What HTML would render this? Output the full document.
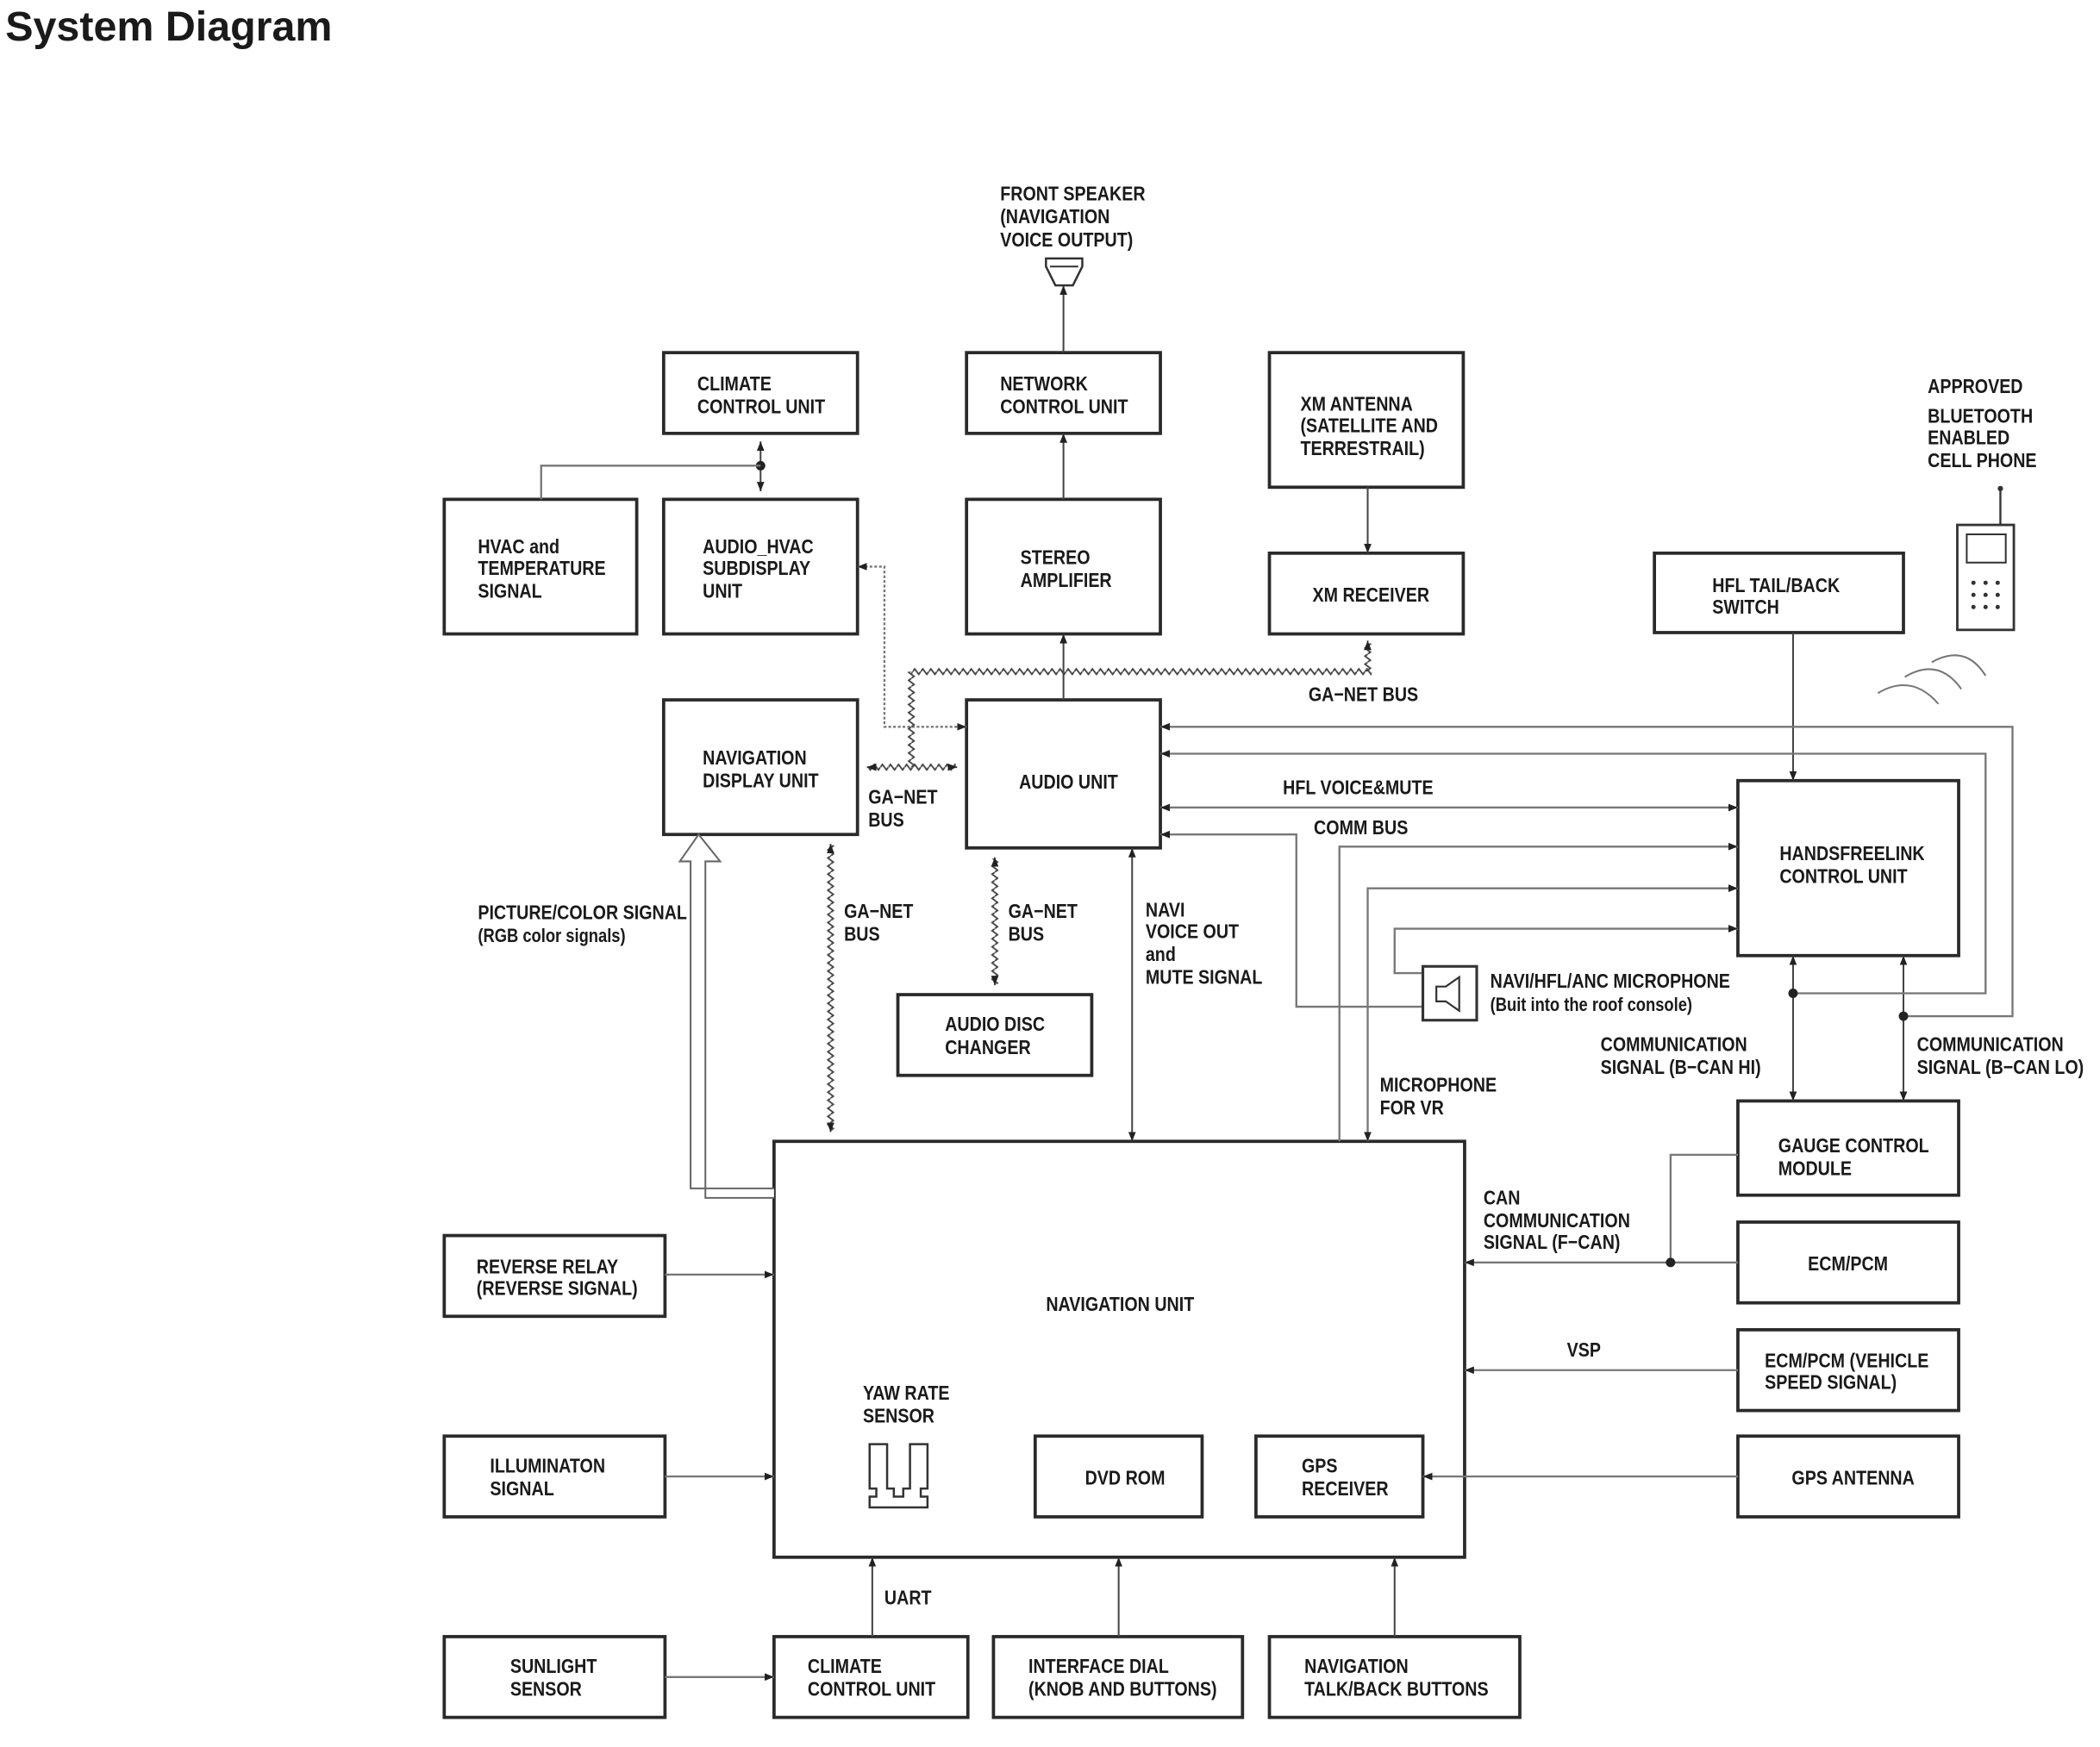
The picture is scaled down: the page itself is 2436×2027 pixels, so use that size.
<!DOCTYPE html>
<html><head><meta charset="utf-8"><style>
html,body{margin:0;padding:0;background:#fff}
svg{display:block}
.b{fill:#fff;stroke:#2a2a2a;stroke-width:2.4}
.l{fill:none;stroke:#777;stroke-width:1.5}
.d{fill:none;stroke:#444;stroke-width:1.3}
text{font-family:"Liberation Sans",Arial,sans-serif;font-weight:bold;font-size:15px;fill:#1a1a1a}
.t{font-size:31px}
</style></head><body>
<svg width="2436" height="2027" viewBox="0 0 1560 1298" preserveAspectRatio="none" xmlns="http://www.w3.org/2000/svg">
<defs>
<marker id="a" viewBox="0 0 10 10" refX="10" refY="5" markerWidth="7" markerHeight="7" orient="auto-start-reverse" markerUnits="userSpaceOnUse"><path d="M0,1 L10,5 L0,9 z" fill="#222"/></marker>
<pattern id="h1" patternUnits="userSpaceOnUse" x="0" y="496" width="6" height="6"><polyline points="0,3 1.5,1 4.5,5 6,3" fill="none" stroke="#444" stroke-width="1.2"/></pattern>
<pattern id="h2" patternUnits="userSpaceOnUse" x="0" y="567" width="6" height="6"><polyline points="0,3 1.5,1 4.5,5 6,3" fill="none" stroke="#444" stroke-width="1.2"/></pattern>
<pattern id="v1" patternUnits="userSpaceOnUse" x="674" y="0" width="6" height="6"><polyline points="3,0 1,1.5 5,4.5 3,6" fill="none" stroke="#444" stroke-width="1.2"/></pattern>
<pattern id="v2" patternUnits="userSpaceOnUse" x="614" y="0" width="6" height="6"><polyline points="3,0 1,1.5 5,4.5 3,6" fill="none" stroke="#444" stroke-width="1.2"/></pattern>
<pattern id="v3" patternUnits="userSpaceOnUse" x="736" y="0" width="6" height="6"><polyline points="3,0 1,1.5 5,4.5 3,6" fill="none" stroke="#444" stroke-width="1.2"/></pattern>
<pattern id="v4" patternUnits="userSpaceOnUse" x="1013" y="0" width="6" height="6"><polyline points="3,0 1,1.5 5,4.5 3,6" fill="none" stroke="#444" stroke-width="1.2"/></pattern>
</defs>
<text class="t" x="4" y="30">System Diagram</text>

<!-- boxes -->
<rect class="b" x="493" y="262" width="144" height="60"/>
<rect class="b" x="718" y="262" width="144" height="60"/>
<rect class="b" x="943" y="262" width="144" height="100"/>
<rect class="b" x="330" y="371" width="143" height="100"/>
<rect class="b" x="493" y="371" width="144" height="100"/>
<rect class="b" x="718" y="371" width="144" height="100"/>
<rect class="b" x="943" y="411" width="144" height="60"/>
<rect class="b" x="1229" y="411" width="185" height="59"/>
<rect class="b" x="493" y="520" width="144" height="100"/>
<rect class="b" x="718" y="520" width="144" height="110"/>
<rect class="b" x="1291" y="580" width="164" height="130"/>
<rect class="b" x="667" y="739" width="144" height="60"/>
<rect class="b" x="1291" y="818" width="164" height="70"/>
<rect class="b" x="1291" y="908" width="164" height="60"/>
<rect class="b" x="1291" y="988" width="164" height="60"/>
<rect class="b" x="1291" y="1067" width="164" height="60"/>
<rect class="b" x="575" y="848" width="513" height="309"/>
<rect class="b" x="330" y="918" width="164" height="60"/>
<rect class="b" x="330" y="1067" width="164" height="60"/>
<rect class="b" x="330" y="1216" width="164" height="60"/>
<rect class="b" x="575" y="1216" width="144" height="60"/>
<rect class="b" x="738" y="1216" width="185" height="60"/>
<rect class="b" x="943" y="1216" width="186" height="60"/>
<rect class="b" x="769" y="1067" width="124" height="60"/>
<rect class="b" x="933" y="1067" width="124" height="60"/>

<!-- straight connectors -->
<g class="d" marker-end="url(#a)">
<path d="M790 262 V212"/>
<path d="M790 371 V322"/>
<path d="M790 520 V471"/>
<path d="M1016 362 V411"/>
<path d="M1332 470 V580"/>
<path d="M648 1216 V1157"/>
<path d="M831 1216 V1157"/>
<path d="M1036 1216 V1157"/>
</g>
<path class="d" d="M565 328 V365" marker-start="url(#a)" marker-end="url(#a)"/>
<circle cx="565" cy="346" r="3.5" fill="#222"/>
<path class="l" d="M565 346 H402 V371"/>
<path class="d" d="M841 630 V848" marker-start="url(#a)" marker-end="url(#a)"/>
<path class="d" d="M1332 710 V818" marker-start="url(#a)" marker-end="url(#a)"/>
<path class="d" d="M1414 710 V818" marker-start="url(#a)" marker-end="url(#a)"/>

<!-- gray signal lines -->
<g class="l">
<path d="M718 540 H657 V421 H637" stroke-dasharray="2 1.5" marker-start="url(#a)" marker-end="url(#a)"/>
<path d="M862 540 H1495 V755 H1414" marker-start="url(#a)"/>
<path d="M862 560 H1475 V738 H1332" marker-start="url(#a)"/>
<path d="M862 600 H1291" marker-start="url(#a)" marker-end="url(#a)"/>
<path d="M862 620 H963 V748 H1057" marker-start="url(#a)"/>
<path d="M1291 629 H995 V848" marker-start="url(#a)"/>
<path d="M1291 660 H1016 V848" marker-start="url(#a)" marker-end="url(#a)"/>
<path d="M1291 690 H1036 V723 H1057" marker-start="url(#a)"/>
<path d="M1291 858 H1241 V938"/>
<path d="M1291 938 H1088" marker-end="url(#a)"/>
<path d="M1291 1018 H1088" marker-end="url(#a)"/>
<path d="M1291 1097 H1057" marker-end="url(#a)"/>
<path d="M494 947 H575" marker-end="url(#a)"/>
<path d="M494 1097 H575" marker-end="url(#a)"/>
<path d="M494 1246 H575" marker-end="url(#a)"/>
</g>
<circle cx="1414" cy="755" r="3.5" fill="#222"/>
<circle cx="1332" cy="738" r="3.5" fill="#222"/>
<circle cx="1241" cy="938" r="3.5" fill="#222"/>

<!-- wavy buses -->
<rect x="677" y="496" width="342" height="6" fill="url(#h1)"/>
<rect x="645" y="567" width="65" height="6" fill="url(#h2)"/>
<rect x="674" y="499" width="6" height="71" fill="url(#v1)"/>
<rect x="1013" y="478" width="6" height="21" fill="url(#v4)"/>
<rect x="614" y="628" width="6" height="212" fill="url(#v2)"/>
<rect x="736" y="638" width="6" height="93" fill="url(#v3)"/>
<path class="d" d="M1016 477 V476" marker-end="url(#a)"/>
<path class="d" d="M645 570 H644" marker-end="url(#a)"/>
<path class="d" d="M710 570 H711" marker-end="url(#a)"/>
<path class="d" d="M617 628 V627" marker-end="url(#a)"/>
<path class="d" d="M617 840 V841" marker-end="url(#a)"/>
<path class="d" d="M739 638 V637" marker-end="url(#a)"/>
<path class="d" d="M739 731 V732" marker-end="url(#a)"/>

<!-- hollow arrow -->
<path d="M575 883 H513 V640 H505 L519 620 L535 640 H524 V890 H575" fill="#fff" stroke="#666" stroke-width="1.3"/>

<!-- speaker -->
<path d="M777 192 H804 V198 L797 212 H784 L777 198 Z" fill="#fff" stroke="#333" stroke-width="1.6"/>
<path d="M780 198 H801" stroke="#333" stroke-width="1.3"/>

<!-- microphone -->
<rect x="1057" y="718" width="40" height="40" fill="#fff" stroke="#333" stroke-width="2"/>
<path d="M1067 733 H1074 L1084 726 V751 L1074 744 H1067 Z" fill="none" stroke="#333" stroke-width="1.4"/>

<!-- phone -->
<line x1="1486" y1="362" x2="1486" y2="390" stroke="#333" stroke-width="1.5"/>
<circle cx="1486" cy="363" r="2" fill="#333"/>
<rect x="1454" y="390" width="42" height="78" fill="#fff" stroke="#333" stroke-width="1.8"/>
<rect x="1461" y="397" width="29" height="21" fill="#fff" stroke="#333" stroke-width="1.3"/>
<g fill="#333">
<circle cx="1466" cy="433" r="1.6"/><circle cx="1475" cy="433" r="1.6"/><circle cx="1484" cy="433" r="1.6"/>
<circle cx="1466" cy="442" r="1.6"/><circle cx="1475" cy="442" r="1.6"/><circle cx="1484" cy="442" r="1.6"/>
<circle cx="1466" cy="451" r="1.6"/><circle cx="1475" cy="451" r="1.6"/><circle cx="1484" cy="451" r="1.6"/>
</g>
<g fill="none" stroke="#777" stroke-width="1.3">
<path d="M1395 515 Q1420 500 1440 523"/>
<path d="M1415 503 Q1440 488 1457 512"/>
<path d="M1435 492 Q1460 478 1475 502"/>
</g>

<!-- yaw sensor -->
<path d="M646 1073 H659 V1106 H664 V1112 H671 V1106 H676 V1073 H689 V1106 H684 V1112 H689 V1120 H646 V1112 H651 V1106 H646 Z" fill="#fff" stroke="#333" stroke-width="1.6"/>

<!-- texts -->
<g>
<text transform="translate(743 149) scale(.84 1)">FRONT SPEAKER</text><text transform="translate(743 166) scale(.84 1)">(NAVIGATION</text><text transform="translate(743 183) scale(.84 1)">VOICE OUTPUT)</text>
<text transform="translate(518 290) scale(.84 1)">CLIMATE</text><text transform="translate(518 307) scale(.84 1)">CONTROL UNIT</text>
<text transform="translate(743 290) scale(.84 1)">NETWORK</text><text transform="translate(743 307) scale(.84 1)">CONTROL UNIT</text>
<text transform="translate(966 305) scale(.84 1)">XM ANTENNA</text><text transform="translate(966 321) scale(.84 1)">(SATELLITE AND</text><text transform="translate(966 338) scale(.84 1)">TERRESTRAIL)</text>
<text transform="translate(355 411) scale(.84 1)">HVAC and</text><text transform="translate(355 427) scale(.84 1)">TEMPERATURE</text><text transform="translate(355 444) scale(.84 1)">SIGNAL</text>
<text transform="translate(522 411) scale(.84 1)">AUDIO_HVAC</text><text transform="translate(522 427) scale(.84 1)">SUBDISPLAY</text><text transform="translate(522 444) scale(.84 1)">UNIT</text>
<text transform="translate(758 419) scale(.84 1)">STEREO</text><text transform="translate(758 436) scale(.84 1)">AMPLIFIER</text>
<text transform="translate(975 447) scale(.84 1)">XM RECEIVER</text>
<text transform="translate(1272 440) scale(.84 1)">HFL TAIL/BACK</text><text transform="translate(1272 456) scale(.84 1)">SWITCH</text>
<text transform="translate(1432 292) scale(.84 1)">APPROVED</text><text transform="translate(1432 314) scale(.84 1)">BLUETOOTH</text><text transform="translate(1432 330) scale(.84 1)">ENABLED</text><text transform="translate(1432 347) scale(.84 1)">CELL PHONE</text>
<text transform="translate(972 521) scale(.84 1)">GA−NET BUS</text>
<text transform="translate(522 568) scale(.84 1)">NAVIGATION</text><text transform="translate(522 585) scale(.84 1)">DISPLAY UNIT</text>
<text transform="translate(645 597) scale(.84 1)">GA−NET</text><text transform="translate(645 614) scale(.84 1)">BUS</text>
<text transform="translate(757 586) scale(.84 1)">AUDIO UNIT</text>
<text transform="translate(953 590) scale(.84 1)">HFL VOICE&amp;MUTE</text>
<text transform="translate(976 620) scale(.84 1)">COMM BUS</text>
<text transform="translate(1322 639) scale(.84 1)">HANDSFREELINK</text><text transform="translate(1322 656) scale(.84 1)">CONTROL UNIT</text>
<text transform="translate(355 683) scale(.84 1)">PICTURE/COLOR SIGNAL</text><text transform="translate(355 700) scale(.84 1)" style="font-size:14px">(RGB color signals)</text>
<text transform="translate(627 682) scale(.84 1)">GA−NET</text><text transform="translate(627 699) scale(.84 1)">BUS</text>
<text transform="translate(749 682) scale(.84 1)">GA−NET</text><text transform="translate(749 699) scale(.84 1)">BUS</text>
<text transform="translate(851 681) scale(.84 1)">NAVI</text><text transform="translate(851 697) scale(.84 1)">VOICE OUT</text><text transform="translate(851 714) scale(.84 1)">and</text><text transform="translate(851 731) scale(.84 1)">MUTE SIGNAL</text>
<text transform="translate(1107 734) scale(.84 1)">NAVI/HFL/ANC MICROPHONE</text><text transform="translate(1107 751) scale(.84 1)" style="font-size:14px">(Buit into the roof console)</text>
<text transform="translate(702 766) scale(.84 1)">AUDIO DISC</text><text transform="translate(702 783) scale(.84 1)">CHANGER</text>
<text transform="translate(1189 781) scale(.84 1)">COMMUNICATION</text><text transform="translate(1189 798) scale(.84 1)">SIGNAL (B−CAN HI)</text>
<text transform="translate(1424 781) scale(.84 1)">COMMUNICATION</text><text transform="translate(1424 798) scale(.84 1)">SIGNAL (B−CAN LO)</text>
<text transform="translate(1025 811) scale(.84 1)">MICROPHONE</text><text transform="translate(1025 828) scale(.84 1)">FOR VR</text>
<text transform="translate(1321 856) scale(.84 1)">GAUGE CONTROL</text><text transform="translate(1321 873) scale(.84 1)">MODULE</text>
<text transform="translate(1102 895) scale(.84 1)">CAN</text><text transform="translate(1102 912) scale(.84 1)">COMMUNICATION</text><text transform="translate(1102 928) scale(.84 1)">SIGNAL (F−CAN)</text>
<text transform="translate(1343 944) scale(.84 1)">ECM/PCM</text>
<text transform="translate(354 946) scale(.84 1)">REVERSE RELAY</text><text transform="translate(354 962) scale(.84 1)">(REVERSE SIGNAL)</text>
<text transform="translate(777 974) scale(.84 1)">NAVIGATION UNIT</text>
<text transform="translate(1164 1008) scale(.84 1)">VSP</text>
<text transform="translate(1311 1016) scale(.84 1)">ECM/PCM (VEHICLE</text><text transform="translate(1311 1032) scale(.84 1)">SPEED SIGNAL)</text>
<text transform="translate(641 1040) scale(.84 1)">YAW RATE</text><text transform="translate(641 1057) scale(.84 1)">SENSOR</text>
<text transform="translate(364 1094) scale(.84 1)">ILLUMINATON</text><text transform="translate(364 1111) scale(.84 1)">SIGNAL</text>
<text transform="translate(806 1103) scale(.84 1)">DVD ROM</text>
<text transform="translate(967 1094) scale(.84 1)">GPS</text><text transform="translate(967 1111) scale(.84 1)">RECEIVER</text>
<text transform="translate(1331 1103) scale(.84 1)">GPS ANTENNA</text>
<text transform="translate(657 1192) scale(.84 1)">UART</text>
<text transform="translate(379 1243) scale(.84 1)">SUNLIGHT</text><text transform="translate(379 1260) scale(.84 1)">SENSOR</text>
<text transform="translate(600 1243) scale(.84 1)">CLIMATE</text><text transform="translate(600 1260) scale(.84 1)">CONTROL UNIT</text>
<text transform="translate(764 1243) scale(.84 1)">INTERFACE DIAL</text><text transform="translate(764 1260) scale(.84 1)">(KNOB AND BUTTONS)</text>
<text transform="translate(969 1243) scale(.84 1)">NAVIGATION</text><text transform="translate(969 1260) scale(.84 1)">TALK/BACK BUTTONS</text>
</g>
</svg>
</body></html>
